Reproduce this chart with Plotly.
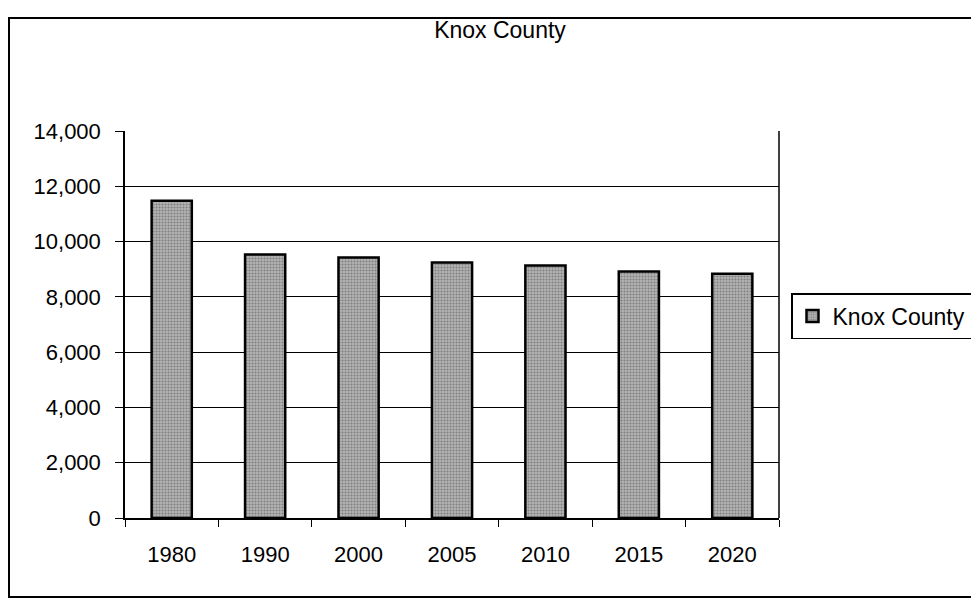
import plotly.graph_objects as go

years = ["1980", "1990", "2000", "2005", "2010", "2015", "2020"]
population = [11480, 9530, 9420, 9240, 9130, 8920, 8840]
y_ticks = [0, 2000, 4000, 6000, 8000, 10000, 12000, 14000]
y_labels = ["0", "2,000", "4,000", "6,000", "8,000", "10,000", "12,000", "14,000"]

# page body adds an 8px offset; figure laid out in its own coordinates
W, H = 971, 591
L, R, T, B = 117, 771, 123, 510  # plot area in figure px
PW, PH = R - L, B - T

def px(x):
    return (x - L) / PW

def py(y):
    return (B - y) / PH

fig = go.Figure()
fig.add_trace(go.Bar(
    x=years, y=population, name="Knox County",
    width=0.43,
    marker=dict(color="#a8a8a8",
                line=dict(color="black", width=2.5),
                pattern=dict(shape=".", fgcolor="#4a4a4a", bgcolor="#b4b4b4", size=3, solidity=0.4)),
    showlegend=True,
))

fig.update_layout(
    width=W, height=H,
    paper_bgcolor="white", plot_bgcolor="white",
    margin=dict(l=L, r=W - R, t=T, b=H - B, autoexpand=False),
    font=dict(family="Liberation Sans, Arial", size=22, color="black"),
    title=dict(text="Knox County", x=492 / W, xanchor="center", y=1 - 22 / H, yanchor="middle",
               font=dict(size=23)),
    xaxis=dict(type="category", showline=True, linecolor="black", linewidth=1.5,
               ticks="outside", tickson="boundaries", ticklen=7, tickcolor="black",
               ticklabelstandoff=16, showgrid=False, tickfont=dict(size=22)),
    yaxis=dict(range=[0, 14000], tickvals=y_ticks, ticktext=y_labels,
               showline=True, linecolor="black", linewidth=1.5,
               ticks="outside", ticklen=8, tickcolor="black", ticklabelstandoff=10,
               showgrid=True, gridcolor="black", gridwidth=1, tickfont=dict(size=22)),
    legend=dict(x=px(783), y=py(308), xanchor="left", yanchor="middle",
                bordercolor="black", borderwidth=1.5, bgcolor="white",
                font=dict(size=23)),
    bargap=0.57,
)

# plot area right border and outer chart border
fig.add_shape(type="line", xref="paper", yref="paper", x0=1, x1=1, y0=0, y1=1,
              line=dict(color="black", width=1.5))
fig.add_shape(type="rect", xref="paper", yref="paper",
              x0=px(1), x1=px(969), y0=py(589), y1=py(10),
              line=dict(color="black", width=2))

fig.write_html("out.html")
